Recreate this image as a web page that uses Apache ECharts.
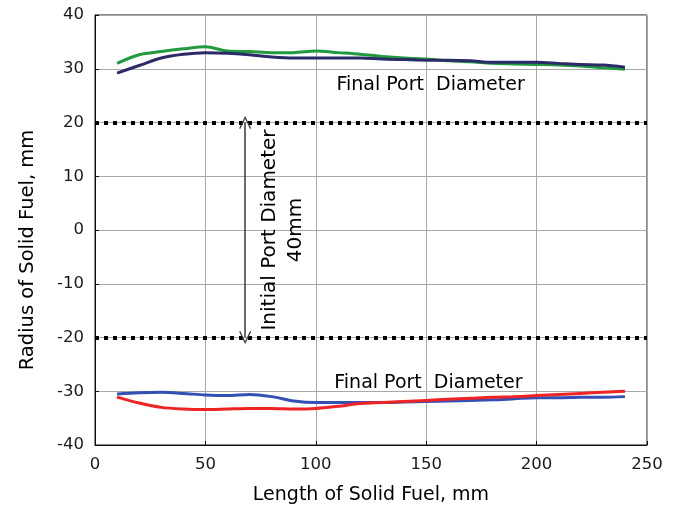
<!DOCTYPE html>
<html>
<head>
<meta charset="utf-8">
<script src="https://cdn.jsdelivr.net/npm/echarts@6/dist/echarts.min.js"></script>
<style>
  html, body { margin: 0; padding: 0; background: #fff; }
  #chart { width: 680px; height: 513px; }
</style>
</head>
<body>
<div id="chart"></div>
<script>
// Axial position along the fuel grain, mm
const lengthMm = [10, 20, 30, 40, 50, 60, 70, 80, 90, 100, 110, 120,
                  130, 140, 150, 160, 170, 180, 190, 200, 210, 220, 230, 240];

// Final port radius, upper wall (two measurements)
const upperGreen = [31.0, 32.6, 33.2, 33.7, 34.1, 33.3, 33.2, 33.0, 33.0, 33.3, 33.0, 32.7,
                    32.3, 32.0, 31.8, 31.5, 31.3, 31.0, 30.9, 30.8, 30.7, 30.5, 30.2, 29.9];
const upperNavy  = [29.2, 30.6, 32.0, 32.7, 33.0, 32.9, 32.6, 32.2, 32.0, 32.0, 32.0, 32.0,
                    31.8, 31.7, 31.6, 31.6, 31.5, 31.2, 31.2, 31.2, 31.0, 30.8, 30.7, 30.3];

// Final port radius, lower wall (two measurements)
const lowerBlue = [-30.5, -30.3, -30.2, -30.4, -30.7, -30.8, -30.6, -31.0, -31.8, -32.1, -32.1, -32.1,
                   -32.1, -32.0, -31.9, -31.8, -31.7, -31.6, -31.4, -31.2, -31.2, -31.1, -31.1, -31.0];
const lowerRed  = [-31.1, -32.2, -33.0, -33.3, -33.4, -33.3, -33.2, -33.2, -33.3, -33.2, -32.8, -32.3,
                   -32.1, -31.9, -31.7, -31.5, -31.3, -31.1, -31.0, -30.8, -30.6, -30.4, -30.2, -30.0];

// Initial port: 40 mm diameter -> +/-20 mm radius
const initialRadius = 20;
const arrowX = 68;
const initialLabelPos = [85, 0];
const finalLabelUpper = [152, 27];
const finalLabelLower = [151, -28.5];

const FONT = '"DejaVu Sans", sans-serif';
const TXT = '#000';

const pair = (ys) => lengthMm.map((x, i) => [x, ys[i]]);

// open arrow head drawn as a thin filled chevron
const chevron = 'path://M0,0 L6,12 L4.9,12.7 L0,2.6 L-4.9,12.7 L-6,12 Z';

function wallSeries(name, ys, color) {
  return {
    name, type: 'line', data: pair(ys), smooth: 0.3, showSymbol: false,
    lineStyle: { color, width: 3 }, z: 5
  };
}

const dotted = { color: '#000', width: 4, type: [4, 5], cap: 'butt' };

const option = {
  backgroundColor: '#ffffff',
  animation: false,
  grid: {
    left: 95, right: 33, top: 15, bottom: 68,
    show: true, borderColor: '#111', borderWidth: 1
  },
  xAxis: {
    type: 'value', min: 0, max: 250, interval: 50,
    name: 'Length of Solid Fuel, mm', nameLocation: 'middle', nameGap: 41,
    nameTextStyle: { fontFamily: FONT, fontSize: 19, color: TXT },
    axisLine: { show: true, onZero: false, lineStyle: { color: '#111', width: 1 } },
    axisTick: { show: true, inside: true, length: 4, lineStyle: { color: '#111' } },
    axisLabel: { fontFamily: FONT, fontSize: 16.5, color: '#1a1a1a', margin: 11 },
    splitLine: { show: true, lineStyle: { color: '#a8a8a8', width: 1 } }
  },
  yAxis: {
    type: 'value', min: -40, max: 40, interval: 10,
    name: 'Radius of Solid Fuel, mm', nameLocation: 'middle', nameGap: 57,
    nameTextStyle: { fontFamily: FONT, fontSize: 19.5, color: TXT, padding: [0, 40, 0, 0] },
    axisLine: { show: true, onZero: false, lineStyle: { color: '#111', width: 1 } },
    axisTick: { show: true, inside: true, length: 4, lineStyle: { color: '#111' } },
    axisLabel: { fontFamily: FONT, fontSize: 16.5, color: '#1a1a1a', margin: 11 },
    splitLine: { show: true, lineStyle: { color: '#a8a8a8', width: 1 } }
  },
  series: [
    wallSeries('upper A', upperGreen, '#1f9a3c'),
    wallSeries('upper B', upperNavy, '#2d2a68'),
    wallSeries('lower A', lowerBlue, '#3350b4'),
    wallSeries('lower B', lowerRed, '#ee2424'),
    {
      // initial port walls (dotted) and the diameter arrow between them
      name: 'initial port', type: 'line', data: [], silent: true,
      markLine: {
        silent: true, animation: false,
        symbol: ['none', 'none'],
        label: { show: false },
        data: [
          { yAxis: initialRadius, lineStyle: dotted },
          { yAxis: -initialRadius, lineStyle: dotted },
          [
            { coord: [arrowX, initialRadius], symbol: chevron, symbolSize: [12, 13] },
            { coord: [arrowX, -initialRadius], symbol: chevron, symbolSize: [12, 13] }
          ]
        ],
        lineStyle: { color: '#3a3a3a', width: 1.5, type: 'solid' }
      },
      z: 4
    },
    {
      name: 'labels', type: 'scatter', symbolSize: 0, silent: true, z: 6,
      itemStyle: { opacity: 1 },
      data: [
        { value: finalLabelUpper, label: { formatter: 'Final Port  Diameter' } },
        { value: finalLabelLower, label: { formatter: 'Final Port  Diameter' } },
        { value: initialLabelPos,
          label: { formatter: 'Initial Port Diameter\n40mm', rotate: 90, lineHeight: 26, fontSize: 20 } }
      ],
      label: {
        show: true, position: 'inside', align: 'center', verticalAlign: 'middle',
        fontFamily: FONT, fontSize: 19, color: TXT, opacity: 1
      }
    }
  ]
};

const chart = echarts.init(document.getElementById('chart'), null, { renderer: 'canvas' });
chart.setOption(option);
</script>
</body>
</html>
